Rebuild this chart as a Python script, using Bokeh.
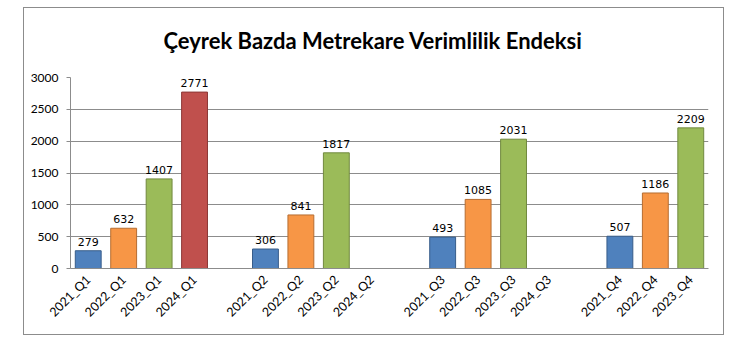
import math
from bokeh.plotting import figure
from bokeh.models import ColumnDataSource, LabelSet, FixedTicker, Range1d, Title
from bokeh.core.properties import value
from bokeh.embed import file_html
from bokeh.resources import INLINE

# ---- data ----
title_text = "Çeyrek Bazda Metrekare Verimlilik Endeksi"
categories = ["2021_Q1", "2022_Q1", "2023_Q1", "2024_Q1", "",
              "2021_Q2", "2022_Q2", "2023_Q2", "2024_Q2", "",
              "2021_Q3", "2022_Q3", "2023_Q3", "2024_Q3", "",
              "2021_Q4", "2022_Q4", "2023_Q4"]
values = [279, 632, 1407, 2771, None,
          306, 841, 1817, None, None,
          493, 1085, 2031, None, None,
          507, 1186, 2209]
y_ticks = [0, 500, 1000, 1500, 2000, 2500, 3000]

year_fill = {"2021": "#4F81BD", "2022": "#F79646", "2023": "#9BBB59", "2024": "#C0504D"}
year_line = {"2021": "#385D8A", "2022": "#B66D31", "2023": "#71893F", "2024": "#8C3836"}

xs, ys, fills, lines, labels = [], [], [], [], []
for i, (c, v) in enumerate(zip(categories, values)):
    if v is None:
        continue
    yr = c[:4]
    xs.append(i)
    ys.append(v)
    fills.append(year_fill[yr])
    lines.append(year_line[yr])
    labels.append(str(v))
src = ColumnDataSource(dict(x=xs, y=ys, fill=fills, line=lines, label=labels))

x_lo, x_hi = -0.5, len(categories) - 0.5
y_lo, y_hi = 0, y_ticks[-1]

p = figure(width=701, height=328, output_backend="svg", toolbar_location=None,
           x_range=Range1d(x_lo, x_hi), y_range=Range1d(y_lo, y_hi),
           min_border_left=46, min_border_right=17, min_border_top=69, min_border_bottom=68)
p.styles = {"position": "relative", "left": "23px", "top": "7px", "border": "1px solid #8c8c8c"}
p.title = None

# white spacer line (next to the plot area), then the title above it
p.add_layout(Title(text=".", text_font="Lato", text_font_size="22px", text_font_style="bold",
                   text_color="#ffffff", standoff=0), "above")
p.add_layout(Title(text=title_text, align="left", offset=93, standoff=10,
                   text_font="Lato", text_font_size="22px", text_font_style="bold",
                   text_color="#000000"), "above")

p.vbar(x="x", top="y", width=0.73, fill_color="fill", line_color="line", line_width=1, source=src)

p.add_layout(LabelSet(x="x", y="y", text="label", source=src, y_offset=5,
                      text_align="center", text_baseline="bottom",
                      text_font=value("DejaVu Sans"), text_font_size=value("11px"),
                      text_color="#000000"))

# axes
p.xgrid.visible = False
p.ygrid.grid_line_color = "#8c8c8c"
p.ygrid.grid_line_width = 1
p.yaxis.ticker = FixedTicker(ticks=y_ticks)
p.yaxis.axis_line_color = "#8c8c8c"
p.yaxis.major_tick_line_color = "#8c8c8c"
p.yaxis.major_tick_out = 4
p.yaxis.major_tick_in = 0
p.yaxis.minor_tick_line_color = None
p.yaxis.major_label_text_font = "Lato"
p.yaxis.major_label_text_font_size = "12px"
p.yaxis.major_label_text_color = "#000000"
p.yaxis.major_label_standoff = 8

p.xaxis.ticker = FixedTicker(ticks=list(range(len(categories))))
p.xaxis.major_label_overrides = {i: c for i, c in enumerate(categories)}
p.xaxis.axis_line_color = "#8c8c8c"
p.xaxis.major_tick_line_color = None
p.xaxis.minor_tick_line_color = None
p.xaxis.major_label_orientation = math.pi / 4
p.xaxis.major_label_text_font = "Lato"
p.xaxis.major_label_text_font_size = "12.5px"
p.xaxis.major_label_text_color = "#000000"
p.xaxis.major_label_standoff = 3

p.outline_line_color = None
p.background_fill_color = "white"
p.border_fill_color = "white"

open("out.html", "w").write(file_html(p, INLINE))
